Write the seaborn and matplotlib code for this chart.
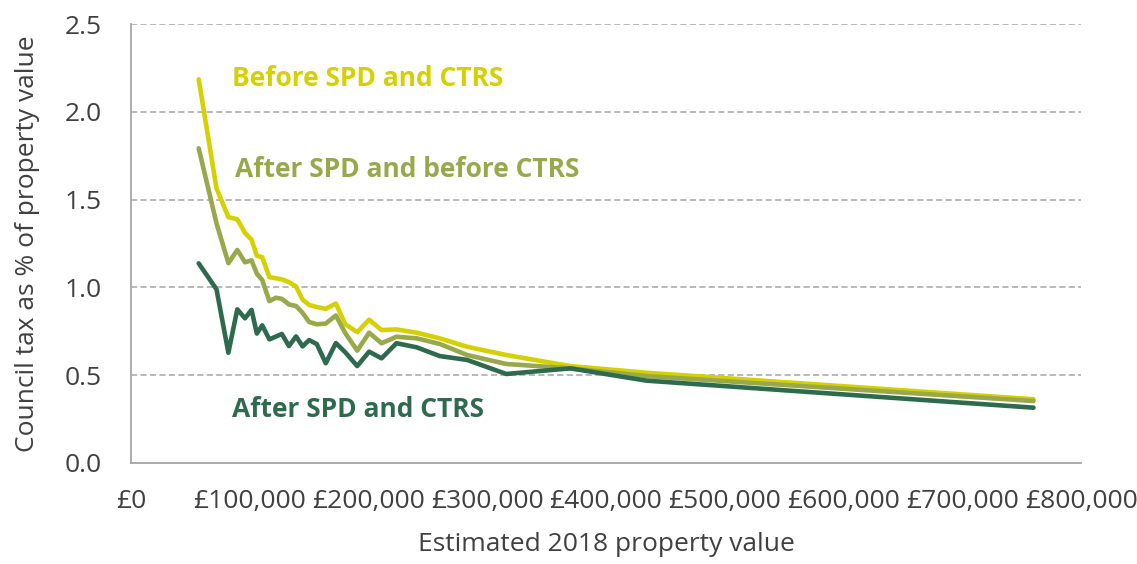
import matplotlib
matplotlib.use("Agg")
import matplotlib.pyplot as plt
import seaborn as sns
import pandas as pd

# ---- data ----
property_value = [57000, 72000, 82000, 89500, 96000, 101500, 106000, 110500, 116500,
                  122000, 127000, 133000, 139000, 144500, 150000, 156500, 164000,
                  172500, 180500, 190500, 200500, 211000, 223500, 240500, 260000,
                  283000, 316000, 370000, 434000, 760000]

before_spd_ctrs = [2.185, 1.564, 1.400, 1.388, 1.310, 1.272, 1.180, 1.172, 1.058,
                   1.052, 1.046, 1.030, 1.005, 0.930, 0.900, 0.888, 0.878,
                   0.908, 0.790, 0.745, 0.816, 0.757, 0.761, 0.742, 0.710,
                   0.662, 0.615, 0.552, 0.514, 0.363]

after_spd_before_ctrs = [1.792, 1.365, 1.138, 1.213, 1.143, 1.154, 1.078, 1.042, 0.922,
                         0.941, 0.935, 0.903, 0.894, 0.855, 0.803, 0.790, 0.794,
                         0.840, 0.739, 0.640, 0.742, 0.682, 0.719, 0.710, 0.678,
                         0.615, 0.564, 0.539, 0.495, 0.353]

after_spd_ctrs = [1.137, 0.989, 0.628, 0.875, 0.824, 0.872, 0.737, 0.784, 0.704,
                  0.720, 0.735, 0.666, 0.721, 0.664, 0.700, 0.677, 0.568,
                  0.683, 0.630, 0.552, 0.634, 0.596, 0.682, 0.659, 0.609,
                  0.587, 0.507, 0.539, 0.469, 0.315]

series_names = ["Before SPD and CTRS", "After SPD and before CTRS", "After SPD and CTRS"]
series_colors = ["#D5D100", "#98A84A", "#2E6B4E"]

x_ticks = [0, 100000, 200000, 300000, 400000, 500000, 600000, 700000, 800000]
x_tick_labels = ["£0", "£100,000", "£200,000", "£300,000", "£400,000",
                 "£500,000", "£600,000", "£700,000", "£800,000"]
y_ticks = [0.0, 0.5, 1.0, 1.5, 2.0, 2.5]
y_tick_labels = ["0.0", "0.5", "1.0", "1.5", "2.0", "2.5"]

x_label = "Estimated 2018 property value"
y_label = "Council tax as % of property value"

# label anchor positions (data coords)
label_x = [85000, 87600, 85000]
label_y = [2.187, 1.669, 0.302]

# ---- build long table ----
frames = []
for name, vals in zip(series_names, [before_spd_ctrs, after_spd_before_ctrs, after_spd_ctrs]):
    frames.append(pd.DataFrame({"value": property_value, "pct": vals, "series": name}))
df = pd.concat(frames, ignore_index=True)

sns.set_theme(style="white")
plt.rcParams['font.family'] = ['Open Sans', 'DejaVu Sans']

text_color = "#404040"
axis_color = "#A6A6A6"
fs = 19

fig = plt.figure(figsize=(11.37, 5.64), dpi=100)
ax = fig.add_axes([131 / 1137, 1 - 463 / 564, (1081 - 131) / 1137, (463 - 24) / 564])

# grid
for yv in y_ticks[1:]:
    ax.axhline(yv, color=axis_color, lw=1.1, linestyle=(0, (4, 2.2)), zorder=0)

sns.lineplot(data=df, x="value", y="pct", hue="series", hue_order=series_names,
             palette=dict(zip(series_names, series_colors)), linewidth=3.3,
             legend=False, ax=ax, sort=False, estimator=None, zorder=3)

ax.set_xlim(0, 800000)
ax.set_ylim(0, 2.5)
ax.set_xticks(x_ticks)
ax.set_xticklabels(x_tick_labels)
ax.set_yticks(y_ticks)
ax.set_yticklabels(y_tick_labels)

for s in ["top", "right"]:
    ax.spines[s].set_visible(False)
for s in ["left", "bottom"]:
    ax.spines[s].set_color(axis_color)
    ax.spines[s].set_linewidth(1.3)

ax.tick_params(axis="both", which="major", direction="out", length=8, width=1.3,
               color=axis_color, labelcolor=text_color, labelsize=fs)
ax.tick_params(axis="y", pad=13)
ax.tick_params(axis="x", pad=11)

ax.set_xlabel(x_label, fontsize=fs, color=text_color, labelpad=13)
ax.set_ylabel(y_label, fontsize=fs, color=text_color, labelpad=18)

for name, col, lx, ly in zip(series_names, series_colors, label_x, label_y):
    ax.text(lx, ly, name, color=col, fontsize=19, fontweight="bold",
            ha="left", va="center", zorder=5)

fig.savefig("out.png", dpi=100)
